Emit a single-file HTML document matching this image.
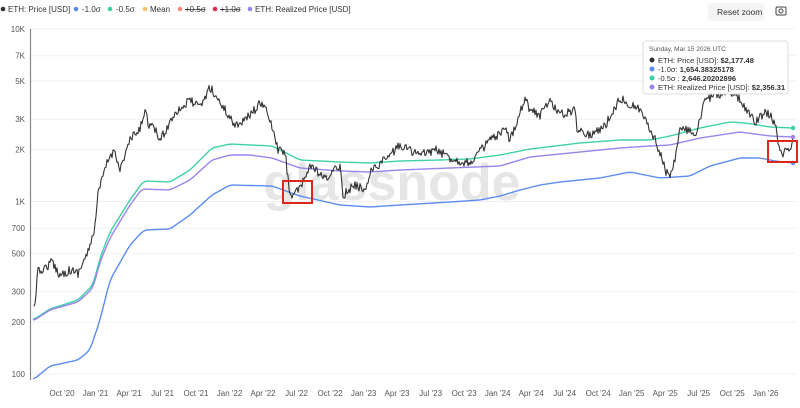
<!DOCTYPE html><html><head><style>
body{margin:0;background:#fff;font-family:"Liberation Sans",sans-serif;}
svg text{font-family:"Liberation Sans",sans-serif;}
</style></head><body>
<svg id="s" width="800" height="403" xmlns="http://www.w3.org/2000/svg">
<rect width="800" height="403" fill="#fff"/>
<g font-size="8" fill="#333">
<circle cx="3" cy="9" r="2.3" fill="#333"/><text x="8" y="12">ETH: Price [USD]</text>
<circle cx="76" cy="9" r="2.3" fill="#5b8def"/><text x="82" y="12">-1.0σ</text>
<circle cx="110" cy="9" r="2.3" fill="#3ed1a8"/><text x="116" y="12">-0.5σ</text>
<circle cx="145" cy="9" r="2.3" fill="#f5c36b"/><text x="150" y="12">Mean</text>
<circle cx="180" cy="9" r="2.3" fill="#f48a80"/><text x="185" y="12" text-decoration="line-through">+0.5σ</text>
<circle cx="215" cy="9" r="2.3" fill="#e8284a"/><text x="220" y="12" text-decoration="line-through">+1.0σ</text>
<circle cx="250" cy="9" r="2.3" fill="#9b82ee"/><text x="255" y="12">ETH: Realized Price [USD]</text>
</g>
<rect x="708" y="3" width="56" height="18" rx="3" fill="#f5f5f5"/>
<text x="717" y="15" font-size="8.5" fill="#333">Reset zoom</text>
<rect x="776" y="7" width="10" height="8" rx="1.5" fill="none" stroke="#444"/><circle cx="781" cy="11" r="2" fill="none" stroke="#444"/>
<g id="grid"></g>
<text x="392" y="200" font-size="52" fill="#e6e6e6" text-anchor="middle" font-weight="bold">glassnode</text>
<g id="lines"></g>
<rect x="283" y="181" width="29" height="22" fill="none" stroke="#e0261a" stroke-width="2"/>
<rect x="768" y="141" width="29" height="21" fill="none" stroke="#e0261a" stroke-width="2"/>
<g>
<rect x="643" y="41" width="145" height="53" rx="3" fill="#fff" stroke="#ddd"/>
<text x="649" y="51" font-size="6.5" fill="#555">Sunday, Mar 15 2026 UTC</text>
<g font-size="7.5" fill="#333">
<circle cx="652" cy="60" r="2.5" fill="#333"/><text x="658" y="63">ETH: Price [USD]: <tspan font-weight="bold">$2,177.48</tspan></text>
<circle cx="652" cy="69" r="2.5" fill="#5b8def"/><text x="658" y="72">-1.0σ: <tspan font-weight="bold">1,654.38325178</tspan></text>
<circle cx="652" cy="78" r="2.5" fill="#3ed1a8"/><text x="658" y="81">-0.5σ : <tspan font-weight="bold">2,646.20202896</tspan></text>
<circle cx="652" cy="87" r="2.5" fill="#9b82ee"/><text x="658" y="90">ETH: Realized Price [USD]: <tspan font-weight="bold">$2,356.31</tspan></text>
</g></g>
</svg>
<script>
var NS="http://www.w3.org/2000/svg";
function Y(v){return 374-172.5*Math.log10(v/100);}
function X(m){return 62+m*11.17;}
var g=document.getElementById('grid'),L=document.getElementById('lines');
function el(p,t,a,txt){var e=document.createElementNS(NS,t);for(var k in a)e.setAttribute(k,a[k]);if(txt)e.textContent=txt;p.appendChild(e);return e;}
[[10000,'10K'],[7000,'7K'],[5000,'5K'],[3000,'3K'],[2000,'2K'],[1000,'1K'],[700,'700'],[500,'500'],[300,'300'],[200,'200'],[100,'100']].forEach(function(a){var y=Y(a[0]);el(g,'line',{x1:31,x2:796,y1:y,y2:y,stroke:'#f0f0f0'});el(g,'text',{x:25,y:y+3,'font-size':8,fill:'#555','text-anchor':'end'},a[1]);});
el(g,'line',{x1:30.5,x2:30.5,y1:29,y2:380,stroke:'#888','stroke-width':1.2});
var lab=["Oct '20","Jan '21","Apr '21","Jul '21","Oct '21","Jan '22","Apr '22","Jul '22","Oct '22","Jan '23","Apr '23","Jul '23","Oct '23","Jan '24","Apr '24","Jul '24","Oct '24","Jan '25","Apr '25","Jul '25","Oct '25","Jan '26"];
lab.forEach(function(t,i){el(g,'text',{x:X(i*3),y:396,'font-size':8,fill:'#555','text-anchor':'middle'},t);});
function ipx(pts,x){if(x<=pts[0][0])return pts[0][1];for(var i=0;i<pts.length-1;i++){if(x<=pts[i+1][0]){var a=pts[i],b=pts[i+1],f=(x-a[0])/(b[0]-a[0]);return a[1]+f*(b[1]-a[1]);}}return pts[pts.length-1][1];}
function curve(pts,col,w,noise,smooth){var x0=pts[0][0],x1=pts[pts.length-1][0],xs=[],ys=[],s=12345,step=noise?1:1;
for(var x=x0;x<=x1+0.001;x+=step){xs.push(x);var y=ipx(pts,x);if(noise){s=(s*16807)%2147483647;y+=((s/2147483647)-0.5)*noise;}ys.push(y);}
if(smooth){var k=smooth,o=[];for(var i=0;i<ys.length;i++){var t=0,n=0;for(var j=Math.max(0,i-k);j<=Math.min(ys.length-1,i+k);j++){t+=ys[j];n++;}o.push(t/n);}ys=o;}
var d='';for(var i=0;i<xs.length;i++)d+=(d?'L':'M')+xs[i].toFixed(1)+','+ys[i].toFixed(1);el(L,'path',{d:d,fill:'none',stroke:col,'stroke-width':w,'stroke-linejoin':'round'});}
var teal=[[33,320],[50,309],[78,300],[93,285],[100,258],[110,232],[130,200],[142,183],[145,181],[170,182],[190,170],[212,148],[230,144],[250,145],[272,146],[300,160],[340,162],[370,163],[400,161],[440,160],[470,159],[500,155],[530,149],[580,143],[620,140],[650,140],[670,136],[700,128],[730,122],[745,123],[770,127],[793,128]];
var real=[[33,321],[50,310],[78,302],[93,288],[100,262],[110,238],[130,205],[142,189],[170,190],[190,180],[212,160],[230,155],[250,155],[272,158],[300,168],[340,171],[370,172],[400,170],[450,168],[500,166],[530,157],[580,152],[620,148],[650,146],[670,145],[700,138],[740,132],[770,136],[793,137]];
var blue=[[33,380],[50,366],[78,360],[90,350],[100,320],[110,280],[130,245],[142,232],[145,230],[170,229],[190,215],[212,195],[230,185],[272,186],[300,196],[340,205],[370,207],[400,205],[450,202],[480,200],[500,196],[520,190],[540,185],[560,182],[600,178],[630,172],[660,178],[690,176],[710,166],[740,158],[760,158],[775,161],[793,163]];
var price=[[34,310],[38,272],[45,268],[52,262],[60,275],[70,270],[78,273],[85,258],[90,248],[95,225],[98,195],[102,180],[108,160],[115,150],[120,170],[130,140],[140,130],[145,108],[148,123],[155,130],[160,140],[165,132],[175,112],[185,105],[190,100],[200,108],[210,87],[215,95],[225,110],[235,125],[245,120],[262,102],[270,120],[278,150],[285,152],[290,195],[300,190],[310,165],[320,175],[325,180],[340,165],[343,195],[355,185],[365,190],[370,172],[390,155],[400,145],[420,155],[435,150],[455,160],[470,163],[475,157],[490,140],[500,135],[505,130],[510,140],[520,112],[525,97],[530,110],[540,115],[550,100],[560,115],[575,110],[577,128],[590,135],[605,126],[620,98],[640,110],[650,128],[660,152],[665,170],[670,175],[675,158],[680,130],[690,130],[695,140],[700,120],[705,100],[715,95],[730,92],[740,100],[750,115],[755,123],[765,112],[770,115],[775,125],[778,140],[780,148],[783,153],[790,148],[793,142]];
curve(blue,'#5b8def',1.4,0,3);curve(teal,'#3ed1a8',1.4,0,3);curve(real,'#9b82ee',1.4,0,3);curve(price,'#333',1.1,9,0);
[[793,163,'#5b8def'],[793,128,'#3ed1a8'],[793,137,'#9b82ee']].forEach(function(a){el(L,'circle',{cx:a[0],cy:a[1],r:2.2,fill:a[2]});});
</script>
</body></html>
